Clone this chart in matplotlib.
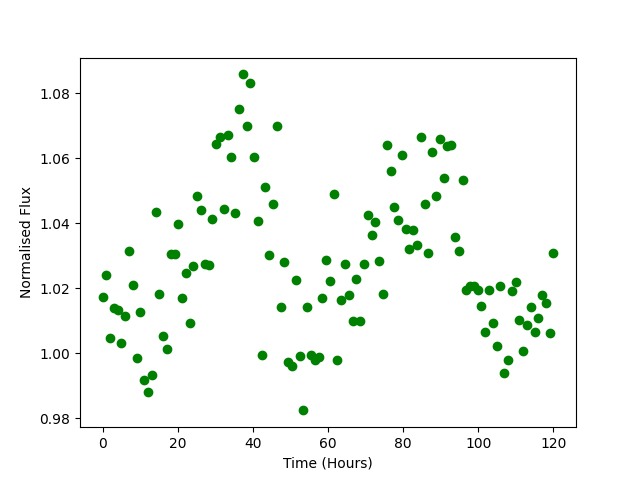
import matplotlib
matplotlib.use("Agg")
import matplotlib.pyplot as plt

time_hours = [
    0.00, 1.01, 2.02, 3.03, 4.03, 5.04, 6.05, 7.06, 8.07, 9.08,
    10.08, 11.09, 12.10, 13.11, 14.12, 15.13, 16.13, 17.14, 18.15, 19.16,
    20.17, 21.18, 22.18, 23.19, 24.20, 25.21, 26.22, 27.23, 28.24, 29.24,
    30.25, 31.26, 32.27, 33.28, 34.29, 35.29, 36.30, 37.31, 38.32, 39.33,
    40.34, 41.34, 42.35, 43.36, 44.37, 45.38, 46.39, 47.39, 48.40, 49.41,
    50.42, 51.43, 52.44, 53.45, 54.45, 55.46, 56.47, 57.48, 58.49, 59.50,
    60.50, 61.51, 62.52, 63.53, 64.54, 65.55, 66.55, 67.56, 68.57, 69.58,
    70.59, 71.60, 72.61, 73.61, 74.62, 75.63, 76.64, 77.65, 78.66, 79.66,
    80.67, 81.68, 82.69, 83.70, 84.71, 85.71, 86.72, 87.73, 88.74, 89.75,
    90.76, 91.76, 92.77, 93.78, 94.79, 95.80, 96.81, 97.82, 98.82, 99.83,
    100.84, 101.85, 102.86, 103.87, 104.87, 105.88, 106.89, 107.90, 108.91, 109.92,
    110.92, 111.93, 112.94, 113.95, 114.96, 115.97, 116.97, 117.98, 118.99, 120.00,
]

flux = [
    1.0174, 1.0242, 1.0046, 1.0138, 1.0132, 1.0030, 1.0113, 1.0316, 1.0211, 0.9984,
    1.0128, 0.9919, 0.9882, 0.9932, 1.0436, 1.0181, 1.0054, 1.0014, 1.0304, 1.0304,
    1.0399, 1.0171, 1.0248, 1.0094, 1.0267, 1.0485, 1.0442, 1.0273, 1.0270, 1.0414,
    1.0645, 1.0664, 1.0445, 1.0673, 1.0605, 1.0430, 1.0753, 1.0858, 1.0698, 1.0830,
    1.0605, 1.0408, 0.9993, 1.0513, 1.0301, 1.0458, 1.0698, 1.0141, 1.0282, 0.9974,
    0.9962, 1.0224, 0.9990, 0.9824, 1.0141, 0.9996, 0.9978, 0.9987, 1.0171, 1.0288,
    1.0221, 1.0491, 0.9978, 1.0165, 1.0273, 1.0178, 1.0098, 1.0227, 1.0098, 1.0273,
    1.0424, 1.0365, 1.0405, 1.0285, 1.0181, 1.0642, 1.0562, 1.0451, 1.0411, 1.0611,
    1.0381, 1.0322, 1.0378, 1.0334, 1.0664, 1.0458, 1.0307, 1.0618, 1.0485, 1.0658,
    1.0538, 1.0639, 1.0642, 1.0359, 1.0313, 1.0534, 1.0193, 1.0208, 1.0208, 1.0196,
    1.0144, 1.0064, 1.0196, 1.0094, 1.0021, 1.0208, 0.9938, 0.9978, 1.0190, 1.0218,
    1.0101, 1.0008, 1.0088, 1.0141, 1.0064, 1.0107, 1.0178, 1.0156, 1.0061, 1.0307,
]

fig = plt.figure(figsize=(6.4, 4.8), dpi=100)
plt.plot(time_hours, flux, 'go')
plt.xlabel("Time (Hours)")
plt.ylabel("Normalised Flux")
plt.savefig("out.png", dpi=100)
